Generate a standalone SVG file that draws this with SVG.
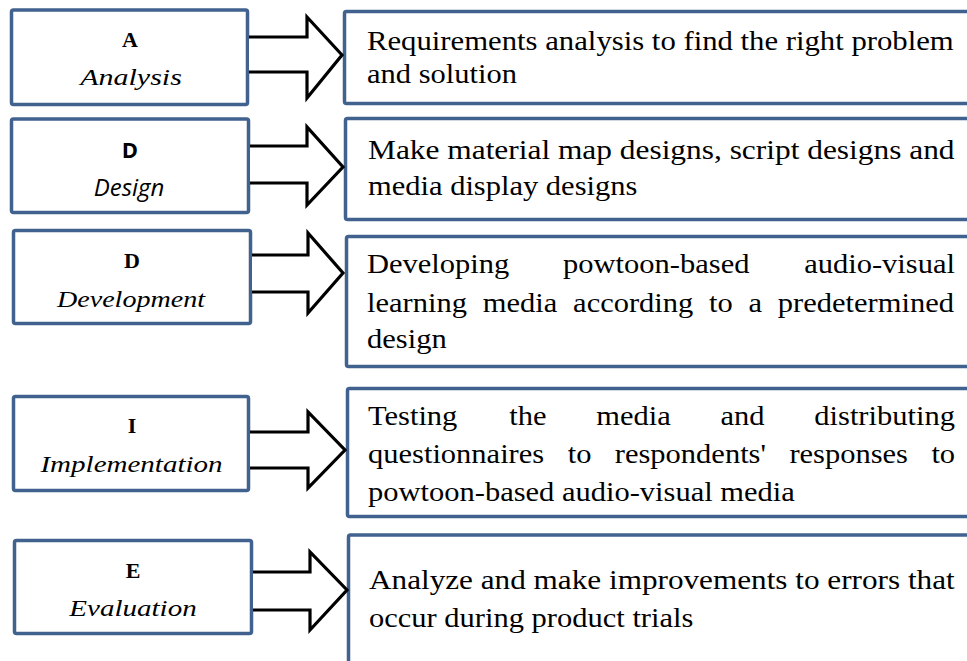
<svg xmlns="http://www.w3.org/2000/svg" width="967" height="661" viewBox="0 0 967 661">
  <style>
    .box { fill: #ffffff; stroke: #41628e; stroke-width: 3.5; }
    .arrow { fill: #ffffff; stroke: #000000; stroke-width: 3.2; stroke-linejoin: miter; }
    .letter { font-weight: bold; font-size: 22px; text-anchor: middle; }
    .phase { font-style: italic; font-size: 24px; text-anchor: middle; }
    .desc { font-size: 27px; }
  </style>

  <!-- left column: ADDIE phases -->
  <g id="phase-analysis" font-family="Liberation Serif" fill="#000">
    <rect class="box" x="11.5" y="10" width="236" height="94.5" rx="2"/>
    <text class="letter" x="130" y="47">A</text>
    <text class="phase" transform="translate(131,85) scale(1.25,1)">Analysis</text>
  </g>
  <g id="phase-design" font-family="Open Sans" fill="#000">
    <rect class="box" x="11.5" y="119" width="237" height="93.5" rx="2"/>
    <text class="letter" x="130" y="158" font-size="21">D</text>
    <text class="phase" x="129" y="196" font-size="22">Design</text>
  </g>
  <g id="phase-development" font-family="Liberation Serif" fill="#000">
    <rect class="box" x="13.5" y="230.5" width="237" height="93" rx="2"/>
    <text class="letter" x="132" y="268">D</text>
    <text class="phase" transform="translate(131,307) scale(1.17,1)">Development</text>
  </g>
  <g id="phase-implementation" font-family="Liberation Serif" fill="#000">
    <rect class="box" x="13.5" y="396.5" width="235" height="94" rx="2"/>
    <text class="letter" x="132" y="433">I</text>
    <text class="phase" transform="translate(131.5,472) scale(1.21,1)">Implementation</text>
  </g>
  <g id="phase-evaluation" font-family="Liberation Serif" fill="#000">
    <rect class="box" x="14.5" y="540.5" width="237" height="93" rx="2"/>
    <text class="letter" x="133" y="578">E</text>
    <text class="phase" transform="translate(133,616) scale(1.21,1)">Evaluation</text>
  </g>

  <!-- right column: activity descriptions (justified lines set word by word) -->
  <g id="desc-analysis" font-family="Liberation Serif" fill="#000">
    <rect class="box" x="344.5" y="11.5" width="640" height="92" rx="2"/>
    <text class="desc" transform="translate(367,50) scale(1.138,1)">Requirements analysis to find the right problem</text>
    <text class="desc" transform="translate(367,83) scale(1.13,1)">and solution</text>
  </g>
  <g id="desc-design" font-family="Liberation Serif" fill="#000">
    <rect class="box" x="345.5" y="118.5" width="640" height="101" rx="2"/>
    <text class="desc" transform="translate(368,159) scale(1.163,1)">Make material map designs, script designs and</text>
    <text class="desc" transform="translate(368,195) scale(1.13,1)">media display designs</text>
  </g>
  <g id="desc-development" font-family="Liberation Serif" fill="#000">
    <rect class="box" x="346.5" y="236.5" width="640" height="130" rx="2"/>
    <text class="desc" transform="translate(367,273) scale(1.13,1)">Developing</text>
    <text class="desc" transform="translate(563.1,273) scale(1.13,1)">powtoon-based</text>
    <text class="desc" transform="translate(804.2,273) scale(1.13,1)">audio-visual</text>
    <text class="desc" transform="translate(367,312) scale(1.13,1)">learning</text>
    <text class="desc" transform="translate(482.7,312) scale(1.13,1)">media</text>
    <text class="desc" transform="translate(573.1,312) scale(1.13,1)">according</text>
    <text class="desc" transform="translate(709.1,312) scale(1.13,1)">to</text>
    <text class="desc" transform="translate(748.6,312) scale(1.13,1)">a</text>
    <text class="desc" transform="translate(777.8,312) scale(1.13,1)">predetermined</text>
    <text class="desc" transform="translate(367,348) scale(1.13,1)">design</text>
  </g>
  <g id="desc-implementation" font-family="Liberation Serif" fill="#000">
    <rect class="box" x="347.5" y="388.5" width="640" height="128" rx="2"/>
    <text class="desc" transform="translate(368,425) scale(1.13,1)">Testing</text>
    <text class="desc" transform="translate(509.2,425) scale(1.13,1)">the</text>
    <text class="desc" transform="translate(596.2,425) scale(1.13,1)">media</text>
    <text class="desc" transform="translate(720.5,425) scale(1.13,1)">and</text>
    <text class="desc" transform="translate(814.3,425) scale(1.13,1)">distributing</text>
    <text class="desc" transform="translate(368,463) scale(1.13,1)">questionnaires</text>
    <text class="desc" transform="translate(567.7,463) scale(1.13,1)">to</text>
    <text class="desc" transform="translate(614.8,463) scale(1.13,1)">respondents'</text>
    <text class="desc" transform="translate(789.4,463) scale(1.13,1)">responses</text>
    <text class="desc" transform="translate(931.4,463) scale(1.13,1)">to</text>
    <text class="desc" transform="translate(368,501) scale(1.13,1)">powtoon-based audio-visual media</text>
  </g>
  <g id="desc-evaluation" font-family="Liberation Serif" fill="#000">
    <rect class="box" x="348.5" y="535" width="640" height="140" rx="2"/>
    <text class="desc" transform="translate(369,589) scale(1.156,1)">Analyze and make improvements to errors that</text>
    <text class="desc" transform="translate(369,627) scale(1.13,1)">occur during product trials</text>
  </g>

  <!-- block arrows from each phase to its activity -->
  <g id="connectors">
    <path class="arrow" d="M249,37 H307 V17 L342,55 L307,98 V72 H249"/>
    <path class="arrow" d="M250,146 H307 V127 L343,167 L307,205 V183 H250"/>
    <path class="arrow" d="M252,255 H308 V233 L343,273 L308,313 V292 H252"/>
    <path class="arrow" d="M250,432 H308 V412 L345,450 L308,488 V468 H250"/>
    <path class="arrow" d="M253,572 H310 V552 L347,590 L310,630 V610 H253"/>
  </g>
</svg>
